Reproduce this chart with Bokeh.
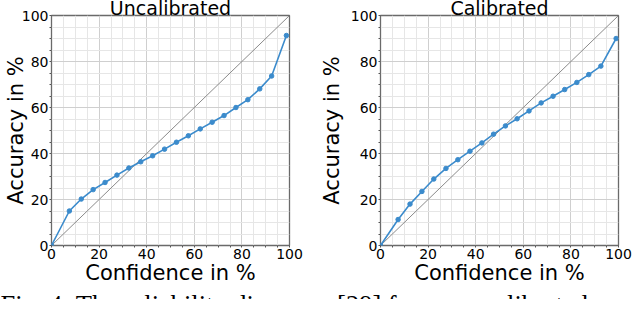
from bokeh.plotting import figure
from bokeh.layouts import row, column
from bokeh.models import Range1d, FixedTicker, Label
from bokeh.embed import file_html
from bokeh.resources import INLINE

# ---- data ----
titles = ["Uncalibrated", "Calibrated"]
x_label = "Confidence in %"
y_label = "Accuracy in %"
caption = "Fig. 4: The reliability diagrams [29] for an uncalibrated and"
major_ticks = [0, 20, 40, 60, 80, 100]
minor_ticks = [5, 10, 15, 25, 30, 35, 45, 50, 55, 65, 70, 75, 85, 90, 95]

conf_uncal = [0, 7.5, 12.5, 17.5, 22.5, 27.5, 32.5, 37.5, 42.5, 47.5,
              52.5, 57.5, 62.5, 67.5, 72.5, 77.5, 82.5, 87.5, 92.5, 98.7]
acc_uncal = [0, 15.0, 20.2, 24.3, 27.4, 30.6, 33.7, 36.4, 39.0, 41.9,
             44.9, 47.7, 50.7, 53.6, 56.5, 60.0, 63.4, 68.1, 73.7, 91.3]
conf_cal = [0, 7.4, 12.4, 17.4, 22.4, 27.5, 32.5, 37.6, 42.6, 47.5,
            52.5, 57.4, 62.4, 67.5, 72.5, 77.4, 82.5, 87.5, 92.6, 99.0]
acc_cal = [0, 11.3, 18.0, 23.5, 28.9, 33.5, 37.3, 41.0, 44.6, 48.4,
           52.0, 55.1, 58.5, 62.0, 64.9, 67.8, 70.9, 74.3, 78.0, 90.0]
diag = [0, 100]

BLUE = "#3b8bcc"
FONT = "DejaVu Sans"
FRAME_W = 238
FRAME_H = 230
TOP = 15
BOTTOM = 42
TOTAL_W = 624
W1, L1 = 306, 41
W2, L2 = 318, 59


def panel(title, xs, ys, width, left, ylab_standoff):
    p = figure(width=width, height=TOP + FRAME_H + BOTTOM,
               x_range=Range1d(0, 100), y_range=Range1d(0, 100),
               frame_width=FRAME_W, frame_height=FRAME_H, min_border=0,
               min_border_left=left, min_border_top=TOP, min_border_bottom=BOTTOM,
               min_border_right=width - left - FRAME_W,
               title=title, toolbar_location=None, output_backend="svg")
    p.title.text_font = FONT
    p.title.text_font_size = "19px"
    p.title.text_font_style = "normal"
    p.title.text_color = "black"
    p.title.align = "center"
    p.title.vertical_align = "middle"
    p.title.standoff = -9
    p.background_fill_color = "white"
    p.border_fill_color = "white"
    p.outline_line_color = "#6a6a6a"
    p.outline_line_width = 1.3

    for ax in (p.xaxis, p.yaxis):
        ax.ticker = FixedTicker(ticks=major_ticks, minor_ticks=minor_ticks)
        ax.axis_line_color = None
        ax.major_tick_out = 2
        ax.major_tick_in = 0
        ax.minor_tick_out = 2
        ax.minor_tick_in = 0
        ax.major_tick_line_color = "#555555"
        ax.minor_tick_line_color = "#555555"
        ax.major_label_text_font = FONT
        ax.major_label_text_font_size = "14px"
        ax.major_label_text_color = "black"
        ax.major_label_standoff = 1
        ax.axis_label_text_font = FONT
        ax.axis_label_text_font_size = "21px"
        ax.axis_label_text_font_style = "normal"
        ax.axis_label_text_color = "black"

    p.xaxis.axis_label = x_label
    p.xaxis.axis_label_standoff = -1
    p.yaxis.axis_label = y_label
    p.yaxis.axis_label_standoff = ylab_standoff

    for g in (p.xgrid, p.ygrid):
        g.grid_line_color = "#cfcfcf"
        g.grid_line_width = 1
        g.minor_grid_line_color = "#e6e6e6"
        g.minor_grid_line_width = 1

    p.line(diag, diag, line_color="#8a8a8a", line_width=1)
    p.line(xs, ys, line_color=BLUE, line_width=1.6)
    p.scatter(xs, ys, size=4.5, fill_color=BLUE, line_color=BLUE)
    return p


p1 = panel(titles[0], conf_uncal, acc_uncal, W1, L1, -9)
p2 = panel(titles[1], conf_cal, acc_cal, W2, L2, 4)

cap = figure(width=TOTAL_W, height=12, x_range=Range1d(0, TOTAL_W), y_range=Range1d(0, 12),
             min_border=0, x_axis_location=None, y_axis_location=None,
             toolbar_location=None, output_backend="svg")
cap.title.visible = False
cap.outline_line_color = None
cap.grid.visible = False
cap.add_layout(Label(x=0, y=-5.7, text=caption, text_font="Liberation Serif",
                     text_font_size="26.5px", text_align="left",
                     text_baseline="alphabetic", text_color="black"))

layout = column(row(p1, p2), cap)
open("out.html", "w").write(file_html(layout, INLINE))
